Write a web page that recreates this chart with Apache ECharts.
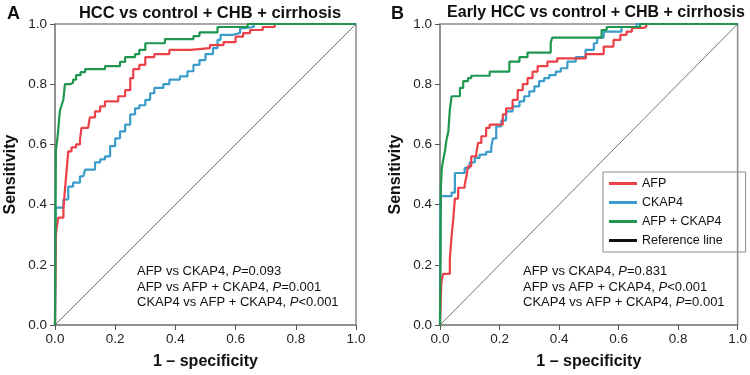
<!DOCTYPE html>
<html>
<head>
<meta charset="utf-8">
<script src="https://cdn.jsdelivr.net/npm/echarts@6/dist/echarts.min.js"></script>
<style>
  html, body { margin: 0; padding: 0; background: #fff; }
  #main { width: 750px; height: 375px; }
</style>
</head>
<body>
<div id="main"></div>
<script>
// ---------- 数据 ----------
var panelTitles = ['HCC vs control + CHB + cirrhosis', 'Early HCC vs control + CHB + cirrhosis'];
var panelLetters = ['A', 'B'];
var seriesNames = ['AFP', 'CKAP4', 'AFP + CKAP4', 'Reference line'];

// 左图 A  [1-specificity, sensitivity]
var afpA = [[0,0],[0.003,0.30],[0.005,0.32],[0.011,0.357],[0.028,0.384],[0.033,0.45],[0.039,0.517],[0.044,0.577],
  [0.055,0.59],[0.07,0.60],[0.083,0.616],[0.088,0.655],[0.11,0.66],[0.116,0.69],[0.133,0.71],[0.15,0.726],
  [0.166,0.743],[0.21,0.76],[0.233,0.78],[0.25,0.82],[0.26,0.85],[0.28,0.864],[0.30,0.89],[0.33,0.90],
  [0.38,0.914],[0.45,0.92],[0.515,0.93],[0.56,0.94],[0.60,0.958],[0.625,0.97],[0.648,0.98],[0.69,0.99],
  [0.73,1.0],[1,1]];
var ckap4A = [[0,0],[0.002,0.39],[0.028,0.417],[0.044,0.46],[0.06,0.473],[0.083,0.494],[0.094,0.50],[0.10,0.516],
  [0.133,0.54],[0.15,0.55],[0.166,0.56],[0.183,0.594],[0.2,0.62],[0.216,0.643],[0.233,0.666],[0.25,0.70],
  [0.266,0.72],[0.28,0.73],[0.30,0.748],[0.316,0.77],[0.33,0.788],[0.36,0.80],[0.38,0.815],[0.415,0.826],
  [0.44,0.843],[0.46,0.864],[0.48,0.88],[0.50,0.90],[0.525,0.92],[0.54,0.947],[0.55,0.964],[0.59,0.97],
  [0.615,0.986],[0.63,0.99],[0.66,1.0],[1,1]];
var comboA = [[0,0],[0.003,0.58],[0.008,0.62],[0.011,0.65],[0.014,0.69],[0.017,0.715],[0.022,0.73],[0.028,0.75],
  [0.033,0.80],[0.05,0.805],[0.06,0.815],[0.07,0.83],[0.085,0.84],[0.10,0.85],[0.166,0.86],[0.216,0.874],
  [0.233,0.89],[0.266,0.90],[0.28,0.914],[0.30,0.936],[0.365,0.95],[0.46,0.96],[0.48,0.972],[0.54,0.99],
  [0.64,1.0],[1,1]];

// 右图 B
var afpB = [[0,0],[0.004,0.13],[0.006,0.15],[0.011,0.17],[0.033,0.22],[0.039,0.296],[0.044,0.345],[0.05,0.42],
  [0.061,0.456],[0.083,0.467],[0.089,0.494],[0.094,0.527],[0.105,0.56],[0.122,0.57],[0.128,0.605],[0.139,0.627],
  [0.155,0.655],[0.167,0.666],[0.211,0.70],[0.222,0.72],[0.244,0.748],[0.261,0.78],[0.278,0.80],[0.294,0.82],
  [0.311,0.842],[0.328,0.86],[0.361,0.875],[0.394,0.886],[0.49,0.90],[0.55,0.925],[0.583,0.947],[0.606,0.964],
  [0.627,0.975],[0.645,0.987],[0.683,0.99],[0.693,1.0],[1,1]];
var ckap4B = [[0,0],[0.002,0.428],[0.039,0.44],[0.05,0.505],[0.083,0.522],[0.1,0.54],[0.117,0.555],[0.133,0.566],
  [0.155,0.575],[0.172,0.59],[0.178,0.62],[0.189,0.66],[0.206,0.68],[0.222,0.71],[0.244,0.726],[0.267,0.743],
  [0.283,0.76],[0.3,0.776],[0.317,0.793],[0.333,0.81],[0.35,0.82],[0.367,0.83],[0.389,0.842],[0.406,0.853],
  [0.428,0.875],[0.456,0.89],[0.489,0.914],[0.517,0.936],[0.528,0.955],[0.55,0.975],[0.61,0.99],[0.66,1.0],[1,1]];
var comboB = [[0,0],[0.003,0.46],[0.006,0.52],[0.011,0.55],[0.017,0.58],[0.022,0.616],[0.028,0.643],[0.033,0.715],
  [0.039,0.76],[0.067,0.788],[0.078,0.81],[0.094,0.82],[0.105,0.828],[0.167,0.842],[0.233,0.875],[0.267,0.89],
  [0.294,0.905],[0.372,0.938],[0.377,0.955],[0.543,0.98],[0.56,0.99],[0.672,1.0],[1,1]];

var refLine = [[0,0],[1,1]];

// P 值注释
var notesA = ['AFP vs CKAP4, {i|P}=0.093', 'AFP vs AFP + CKAP4, {i|P}=0.001', 'CKAP4 vs AFP + CKAP4, {i|P}<0.001'];
var notesB = ['AFP vs CKAP4, {i|P}=0.831', 'AFP vs AFP + CKAP4, {i|P}<0.001', 'CKAP4 vs AFP + CKAP4, {i|P}=0.001'];

// ---------- 样式 ----------
var FONT = '"Liberation Sans", Arial, sans-serif';
var RED = '#ec4048', BLUE = '#3a9ccb', GREEN = '#1f9650', GRAY = '#8a8a8a';

var chart = echarts.init(document.getElementById('main'));

function makeX(idx) {
    return {
        type: 'value', gridIndex: idx, min: 0, max: 1, interval: 0.2,
        name: '1 – specificity', nameLocation: 'middle', nameGap: 29,
        nameTextStyle: { fontFamily: FONT, fontSize: 16, fontWeight: 'bold', color: '#111' },
        axisLine: { show: true, lineStyle: { color: GRAY, width: 1.5 } },
        axisTick: { show: true, length: 5, lineStyle: { color: '#555' } },
        axisLabel: { fontFamily: FONT, fontSize: 13.5, color: '#222', margin: 7,
            formatter: function (v) { return v.toFixed(1); } },
        splitLine: { show: false }
    };
}
function makeY(idx) {
    return {
        type: 'value', gridIndex: idx, min: 0, max: 1, interval: 0.2,
        name: 'Sensitivity', nameLocation: 'middle', nameGap: 36,
        nameTextStyle: { fontFamily: FONT, fontSize: 16, fontWeight: 'bold', color: '#111' },
        axisLine: { show: true, lineStyle: { color: GRAY, width: 1.5 } },
        axisTick: { show: true, length: 5, lineStyle: { color: '#555' } },
        axisLabel: { fontFamily: FONT, fontSize: 13.5, color: '#222', margin: 8,
            formatter: function (v) { return v.toFixed(1); } },
        splitLine: { show: false }
    };
}
function curve(name, data, color, idx) {
    return {
        name: name, type: 'line', xAxisIndex: idx, yAxisIndex: idx,
        data: data, step: 'end', showSymbol: false, symbol: 'none',
        lineStyle: { color: color, width: 2.2 }, itemStyle: { color: color },
        animation: false
    };
}
function refSeries(idx) {
    return {
        name: 'Reference line', type: 'line', xAxisIndex: idx, yAxisIndex: idx,
        data: refLine, showSymbol: false, symbol: 'none',
        lineStyle: { color: '#777', width: 1 }, itemStyle: { color: '#111' },
        animation: false
    };
}
function noteGraphics(lines, left, top) {
    return lines.map(function (t, i) {
        return {
            type: 'text', left: left, top: top + i * 15.5,
            style: {
                text: t, fill: '#111', font: '13px ' + FONT,
                rich: { i: { fontStyle: 'italic', fontSize: 13, fontFamily: FONT, fill: '#111' } }
            }
        };
    });
}

var option = {
    backgroundColor: '#fff',
    animation: false,
    title: [
        { text: panelTitles[0], left: 205, top: 0, textAlign: 'center',
          textStyle: { fontFamily: FONT, fontSize: 16.5, fontWeight: 'bold', color: '#111' } },
        { text: panelTitles[1], left: 591, top: 0, textAlign: 'center',
          textStyle: { fontFamily: FONT, fontSize: 16, fontWeight: 'bold', color: '#111' } },
        { text: panelLetters[0], left: 2, top: 0,
          textStyle: { fontFamily: FONT, fontSize: 18, fontWeight: 'bold', color: '#111' } },
        { text: panelLetters[1], left: 386, top: 0,
          textStyle: { fontFamily: FONT, fontSize: 18, fontWeight: 'bold', color: '#111' } }
    ],
    legend: {
        data: seriesNames.map(function (n) { return { name: n, icon: 'rect' }; }),
        orient: 'vertical', left: 603, top: 172,
        itemWidth: 28, itemHeight: 3, itemGap: 6,
        padding: [5, 23, 5, 6],
        borderColor: GRAY, borderWidth: 1,
        textStyle: { fontFamily: FONT, fontSize: 12.5, color: '#111' }
    },
    grid: [
        { left: 55, top: 24, width: 301, height: 302, show: true, borderColor: GRAY, borderWidth: 1.5 },
        { left: 440, top: 24, width: 300, height: 302, show: true, borderColor: GRAY, borderWidth: 1.5 }
    ],
    xAxis: [makeX(0), makeX(1)],
    yAxis: [makeY(0), makeY(1)],
    series: [
        refSeries(0),
        curve('CKAP4', ckap4A, BLUE, 0),
        curve('AFP', afpA, RED, 0),
        curve('AFP + CKAP4', comboA, GREEN, 0),
        refSeries(1),
        curve('CKAP4', ckap4B, BLUE, 1),
        curve('AFP', afpB, RED, 1),
        curve('AFP + CKAP4', comboB, GREEN, 1)
    ],
    graphic: noteGraphics(notesA, 137, 265).concat(noteGraphics(notesB, 523, 265))
};

chart.setOption(option);
</script>
</body>
</html>
